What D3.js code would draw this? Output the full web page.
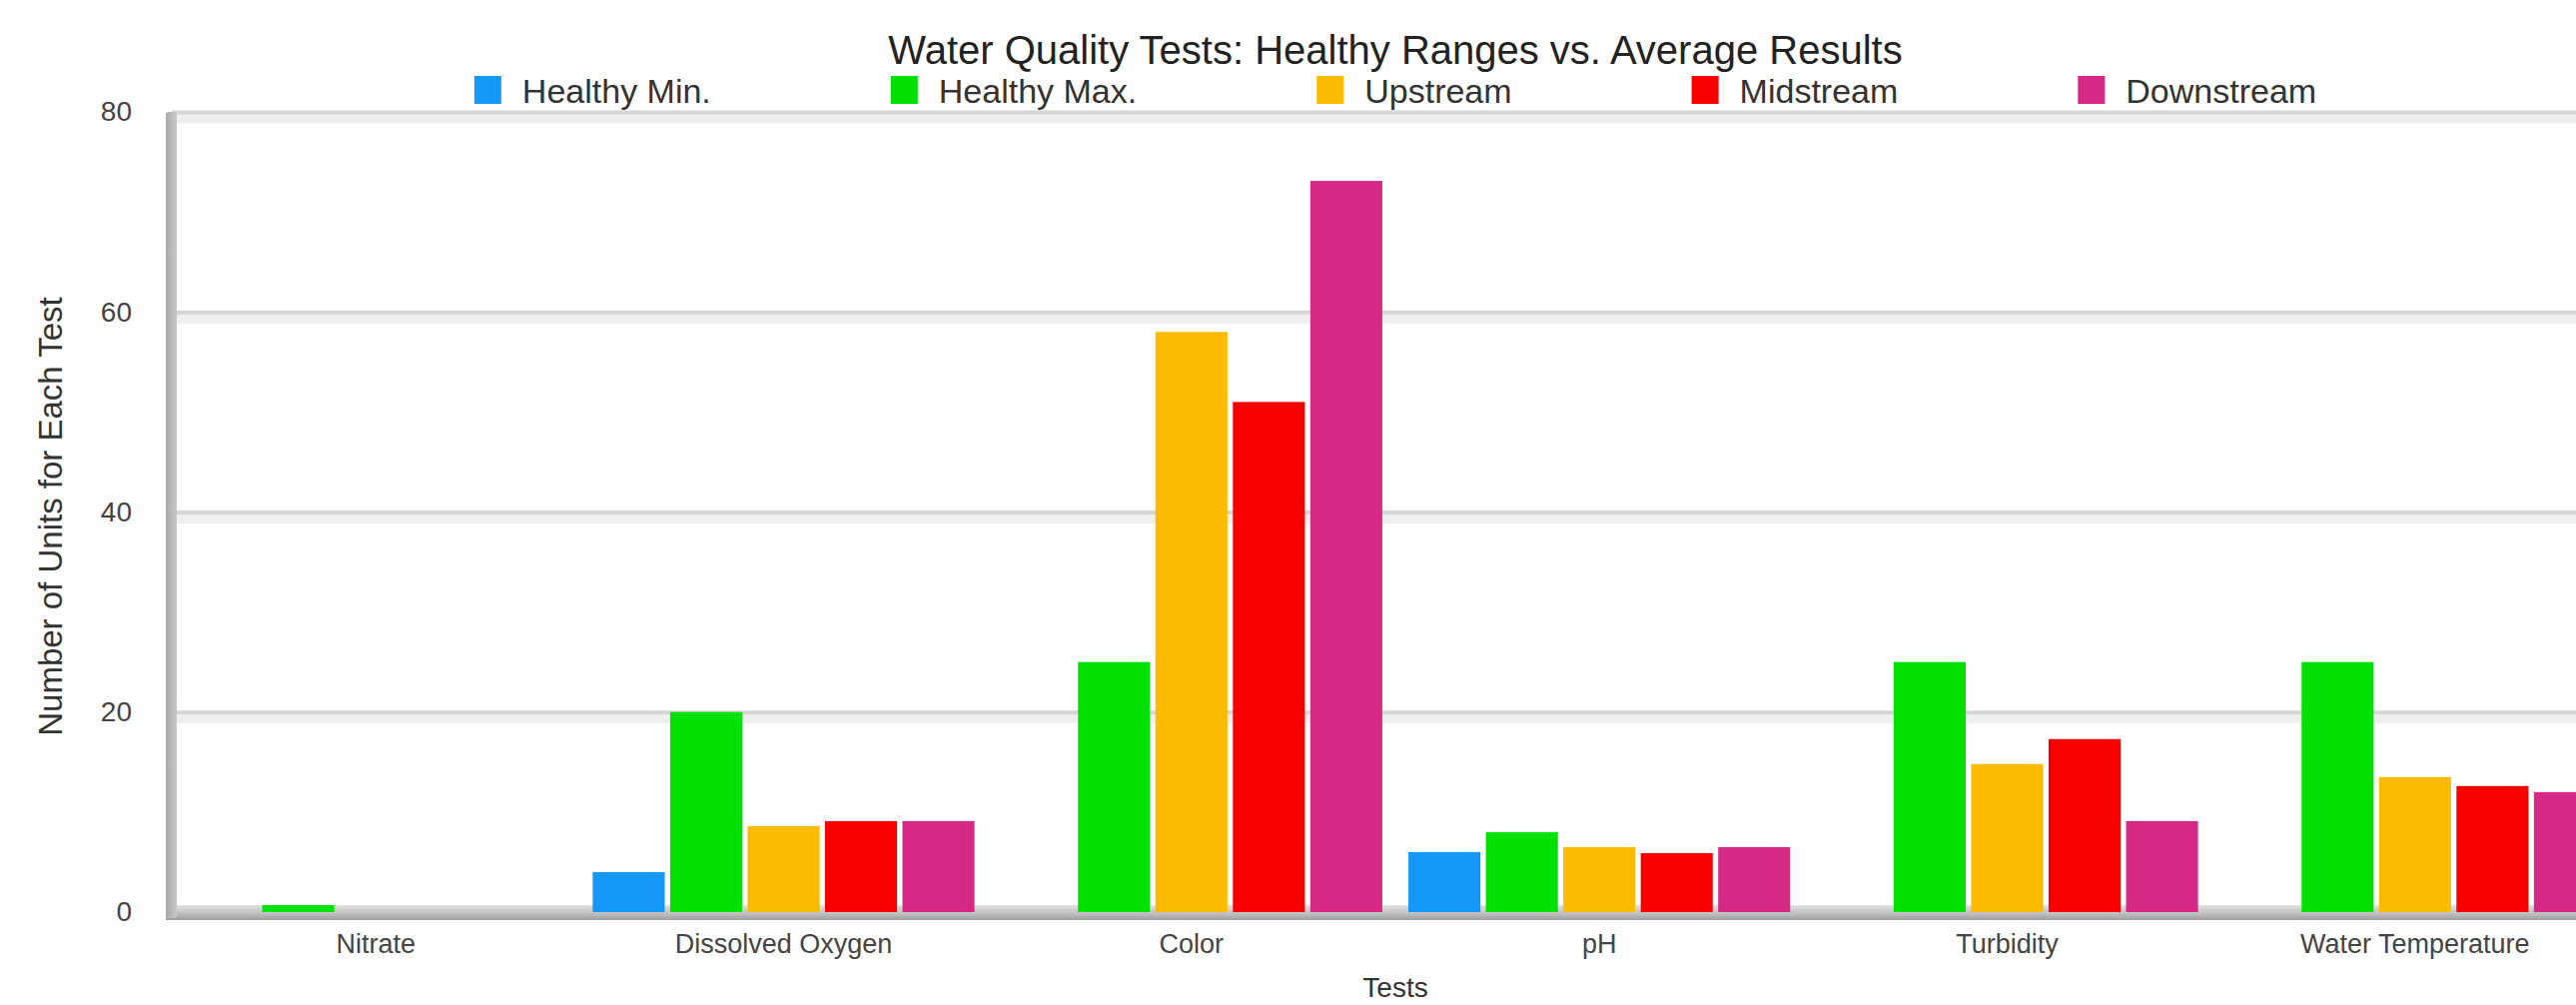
<!DOCTYPE html>
<html>
<head>
<meta charset="utf-8">
<script src="https://cdn.jsdelivr.net/npm/d3@7"></script>
<style>
  html, body { margin: 0; padding: 0; background: #fff; overflow: hidden; }
  svg { display: block; font-family: "Liberation Sans", Arial, sans-serif; }
</style>
</head>
<body>
<svg id="chart" width="2579" height="1006"></svg>
<script>
// ---- data ----
const categories = ["Nitrate", "Dissolved Oxygen", "Color", "pH", "Turbidity", "Water Temperature"];
const seriesNames = ["Healthy Min.", "Healthy Max.", "Upstream", "Midstream", "Downstream"];
const healthyMin = [0, 4, 0, 6, 0, 0];
const healthyMax = [0.7, 20, 25, 8, 25, 25];
const upstream   = [0, 8.6, 58, 6.5, 14.8, 13.5];
const midstream  = [0, 9.1, 51, 5.9, 17.3, 12.6];
const downstream = [0, 9.1, 73.1, 6.5, 9.1, 12.0];
const seriesValues = [healthyMin, healthyMax, upstream, midstream, downstream];
const colors = ["#1598f8", "#03e003", "#fcbb02", "#f70000", "#d42a85"];
const yTicks = [0, 20, 40, 60, 80];
const titleText = "Water Quality Tests: Healthy Ranges vs. Average Results";
const xTitle = "Tests";
const yTitle = "Number of Units for Each Test";

// ---- layout ----
const svg = d3.select("#chart");
const plotL = 172, plotR = 2622, plotT = 112, plotB = 913;
const cx = (plotL + plotR) / 2;

const x0 = d3.scaleBand().domain(categories).range([plotL, plotR]).paddingInner(0.064).paddingOuter(0.032);
const x1 = d3.scaleBand().domain(seriesNames).range([0, x0.bandwidth()]).paddingInner(0.07);
const y = d3.scaleLinear().domain([0, 80]).range([plotB, plotT]);

const defs = svg.append("defs");
const floorGrad = defs.append("linearGradient").attr("id", "floorGrad").attr("x1", 0).attr("y1", 0).attr("x2", 0).attr("y2", 1);
floorGrad.append("stop").attr("offset", "0%").attr("stop-color", "#e2e2e2");
floorGrad.append("stop").attr("offset", "60%").attr("stop-color", "#bdbdbd");
floorGrad.append("stop").attr("offset", "100%").attr("stop-color", "#9e9e9e");
const wallGrad = defs.append("linearGradient").attr("id", "wallGrad").attr("x1", 0).attr("y1", 0).attr("x2", 1).attr("y2", 0);
wallGrad.append("stop").attr("offset", "0%").attr("stop-color", "#a9a9a9");
wallGrad.append("stop").attr("offset", "100%").attr("stop-color", "#c9c9c9");

// gridlines (halo + core)
const gridHalo = d3.axisLeft(y).tickValues(yTicks.filter(d => d > 0)).tickSize(-(plotR - plotL)).tickFormat("");
svg.append("g").attr("transform", `translate(${plotL},5)`).call(gridHalo)
  .call(g => g.select(".domain").remove())
  .call(g => g.selectAll("line").attr("stroke", "#efefef").attr("stroke-width", 12));
const grid = d3.axisLeft(y).tickValues(yTicks.filter(d => d > 0)).tickSize(-(plotR - plotL)).tickFormat("");
svg.append("g").attr("transform", `translate(${plotL},0)`).call(grid)
  .call(g => g.select(".domain").remove())
  .call(g => g.selectAll("line").attr("stroke", "#d5d5d5").attr("stroke-width", 4));

// floor and left wall
svg.append("rect").attr("x", plotL - 6).attr("y", plotB - 7).attr("width", plotR - plotL + 10).attr("height", 15).attr("fill", "url(#floorGrad)");
svg.append("rect").attr("x", plotL - 6).attr("y", plotT).attr("width", 11).attr("height", plotB - plotT + 6).attr("rx", 3).attr("fill", "url(#wallGrad)");

// bars
const groups = svg.append("g").selectAll("g").data(categories).join("g")
  .attr("transform", d => `translate(${x0(d)},0)`);
groups.selectAll("rect")
  .data((c, ci) => seriesNames.map((s, si) => ({ s, si, v: seriesValues[si][ci] })))
  .join("rect")
  .filter(d => d.v > 0)
  .attr("x", d => x1(d.s))
  .attr("y", d => y(d.v))
  .attr("width", x1.bandwidth())
  .attr("height", d => y(0) - y(d.v))
  .attr("fill", d => colors[d.si]);

// y axis labels
svg.append("g").attr("transform", `translate(132,0)`)
  .call(d3.axisLeft(y).tickValues(yTicks).tickSize(0).tickPadding(0))
  .call(g => g.select(".domain").remove())
  .call(g => g.selectAll("text").attr("font-size", 28).attr("fill", "#444").attr("font-family", "Liberation Sans, Arial, sans-serif"));

// x axis labels
svg.append("g").attr("transform", `translate(0,${plotB + 22})`)
  .call(d3.axisBottom(x0).tickSize(0).tickPadding(0))
  .call(g => g.select(".domain").remove())
  .call(g => g.selectAll("text").attr("font-size", 27).attr("fill", "#444").attr("dy", "0.71em").attr("font-family", "Liberation Sans, Arial, sans-serif"));

// titles
svg.append("text").attr("x", cx).attr("y", 64).attr("text-anchor", "middle")
  .attr("font-size", 40).attr("fill", "#222").text(titleText);
svg.append("text").attr("x", cx).attr("y", 998).attr("text-anchor", "middle")
  .attr("font-size", 28).attr("fill", "#333").text(xTitle);
svg.append("text").attr("transform", `translate(62,517) rotate(-90)`).attr("text-anchor", "middle")
  .attr("font-size", 33).attr("fill", "#333").text(yTitle);

// legend
const legend = svg.append("g");
const items = legend.selectAll("g").data(seriesNames).join("g");
items.append("rect").attr("x", 0).attr("y", 76).attr("width", 27).attr("height", 28).attr("fill", (d, i) => colors[i]);
items.append("text").attr("x", 48).attr("y", 103).attr("font-size", 34).attr("fill", "#333").text(d => d);
const widths = [];
items.each(function() {
  const tw = d3.select(this).select("text").node().getComputedTextLength();
  widths.push(48 + tw);
});
const total = d3.sum(widths) + 180 * (widths.length - 1);
let start = cx - total / 2;
items.attr("transform", (d, i) => {
  const t = `translate(${start},0)`;
  start += widths[i] + 180;
  return t;
});
</script>
</body>
</html>
